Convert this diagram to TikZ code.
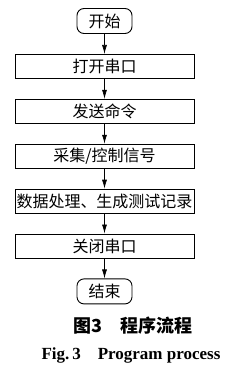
\documentclass[tikz,border=0pt]{standalone}
\usepackage{fontspec}
\setmainfont{Liberation Serif}
\newfontfamily\cjk{Noto Sans CJK SC}
\usepackage{tikz}
\usetikzlibrary{arrows.meta,positioning}

\begin{document}
\begin{tikzpicture}[x=1pt,y=-1pt, font=\cjk\fontsize{16}{18}\selectfont, node distance=20pt,
box/.style={draw,line width=0.9pt,align=center,minimum height=24pt,minimum width=179pt,inner sep=1pt},
term/.style={draw,line width=0.9pt,rounded corners=7pt,align=center,minimum height=25pt,minimum width=55pt,inner sep=1pt},
arr/.style={-{Latex[length=9pt,width=5pt]},line width=0.7pt}]
\useasboundingbox (0,0) rectangle (230,370);
\node[term] (start) at (104.5,21) {开始};
\node[box,below=of start] (open) {打开串口};
\node[box,below=of open] (send) {发送命令};
\node[box,below=of send] (acq) {采集/控制信号};
\node[box,below=of acq] (proc) {数据处理、生成测试记录};
\node[box,below=of proc] (close) {关闭串口};
\node[term,below=of close] (stop) {结束};
\draw[arr] (start)--(open); \draw[arr] (open)--(send); \draw[arr] (send)--(acq); \draw[arr] (acq)--(proc); \draw[arr] (proc)--(close); \draw[arr] (close)--(stop);
\node[font=\cjk\bfseries\fontsize{18}{20}\selectfont] (capcn) at (133,326) {图3\quad 程序流程};
\node[font=\bfseries\fontsize{17}{19}\selectfont] (capen) at (131,355) {Fig.\,3\quad Program process};
\end{tikzpicture}
\end{document}
